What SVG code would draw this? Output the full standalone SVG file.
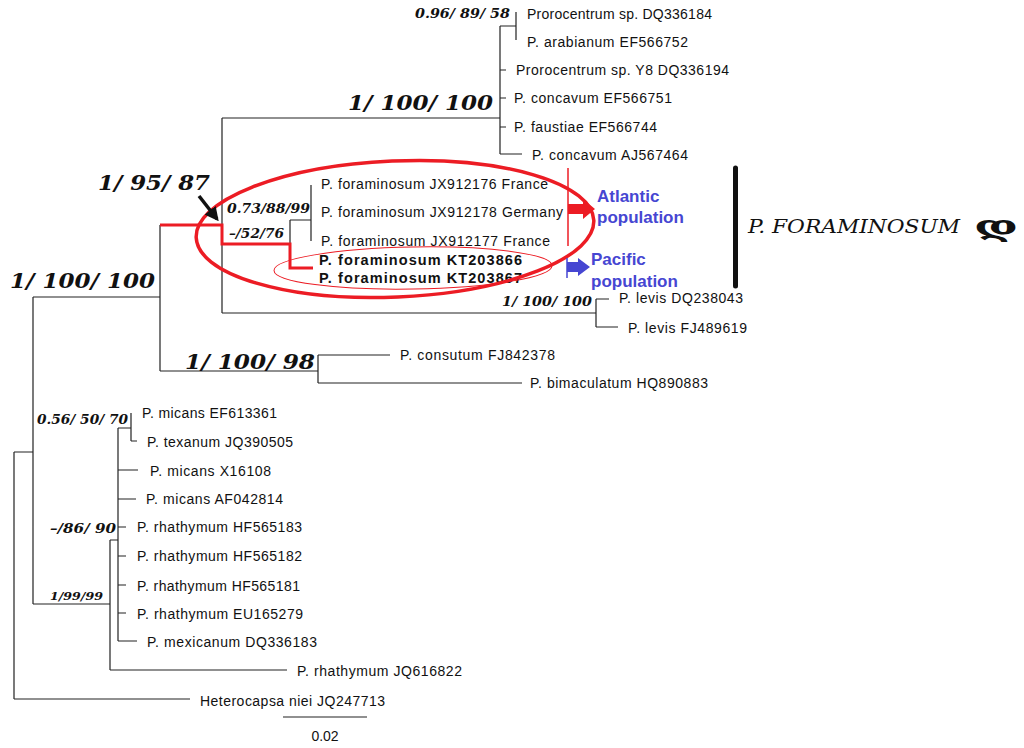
<svg xmlns="http://www.w3.org/2000/svg" width="1024" height="748" viewBox="0 0 1024 748">
<style>
.t{font-family:"Liberation Sans",Arial,sans-serif;font-size:14px;fill:#111}
.tb{font-family:"Liberation Sans",Arial,sans-serif;font-size:14.5px;font-weight:bold;fill:#111}
.s{font-family:"DejaVu Serif","Liberation Serif",serif;font-style:italic;font-weight:bold;font-size:12px;fill:#111}
.b{font-family:"DejaVu Serif","Liberation Serif",serif;font-style:italic;font-weight:bold;font-size:21px;fill:#111}
.pop{font-family:"Liberation Sans",Arial,sans-serif;font-weight:bold;font-size:17px;fill:#4646d2}
.br{fill:none;stroke:#222;stroke-width:1.2}
.red{fill:none;stroke:#ec1c24;stroke-width:3}
</style>
<defs>
<marker id="ah" viewBox="0 0 10 10" refX="8" refY="5" markerWidth="4" markerHeight="4" orient="auto"><path d="M0,0 L10,5 L0,10 z" fill="#111"/></marker>
</defs>
<rect width="1024" height="748" fill="#fff"/>
<g id="connectors">
<path class="br" d="M14,452 V699 M14,452 H33 M14,699 H190 M33,297 V604 M33,297 H160 M33,604 H110 M160,225 V371 M160,371 H318 M318,355 V383 M318,355 H390 M318,383 H522 M222,118 V313 M222,118 H500 M222,313 H596 M500,26 V154 M500,26 H516 M516,12 V40 M500,70 H506 M500,98 H506 M500,127 H506 M500,154 H522 M596,299 V327 M596,299 H609 M596,327 H618 M290,220 V244 M290,220 H311 M311,185 V241 M110,540 V670 M110,540 H118 M110,670 H287 M118,428 V641 M118,428 H131 M131,413 V441 M131,441 H137 M118,470 H138 M118,499 H136 M118,527 H126 M118,556 H126 M118,585 H126 M118,613 H126 M118,641 H137"/>
<path class="red" d="M160,225 H222 V244 H290 V268 H313"/>
<path d="M283,717 H367" stroke="#222" stroke-width="1.2"/>
</g>
<g id="support">
<text class="s" x="415" y="18" textLength="95" lengthAdjust="spacingAndGlyphs">0.96/ 89/ 58</text>
<text class="b" x="348" y="110" textLength="145" lengthAdjust="spacingAndGlyphs">1/ 100/ 100</text>
<text class="b" x="98" y="190" textLength="112" lengthAdjust="spacingAndGlyphs">1/ 95/ 87</text>
<text class="b" x="10" y="288" textLength="145" lengthAdjust="spacingAndGlyphs">1/ 100/ 100</text>
<text class="s" x="227" y="213" textLength="83" lengthAdjust="spacingAndGlyphs">0.73/88/99</text>
<text class="s" x="229" y="238" textLength="55" lengthAdjust="spacingAndGlyphs">–/52/76</text>
<text class="s" x="502" y="306" textLength="90" lengthAdjust="spacingAndGlyphs">1/ 100/ 100</text>
<text class="b" x="185" y="369" textLength="130" lengthAdjust="spacingAndGlyphs">1/ 100/ 98</text>
<text class="s" x="37" y="424" textLength="91" lengthAdjust="spacingAndGlyphs">0.56/ 50/ 70</text>
<text class="s" x="50" y="533" textLength="66" lengthAdjust="spacingAndGlyphs">–/86/ 90</text>
<text class="s" x="50" y="600" textLength="53" lengthAdjust="spacingAndGlyphs" style="font-size:11px">1/99/99</text>
</g>
<g id="taxa">
<g id="n1"><text class="t" x="527" y="19" textLength="185">Prorocentrum sp. DQ336184</text></g>
<g id="n2"><text class="t" x="527" y="47" textLength="161">P. arabianum EF566752</text></g>
<g id="n3"><text class="t" x="516" y="75" textLength="213">Prorocentrum sp. Y8 DQ336194</text></g>
<g id="n4"><text class="t" x="514" y="103" textLength="158">P. concavum EF566751</text></g>
<g id="n5"><text class="t" x="514" y="132" textLength="143">P. faustiae EF566744</text></g>
<g id="n6"><text class="t" x="532" y="160" textLength="156">P. concavum AJ567464</text></g>
<g id="n7"><text class="t" x="321" y="189" textLength="227">P. foraminosum JX912176 France</text></g>
<g id="n8"><text class="t" x="321" y="217" textLength="242">P. foraminosum JX912178 Germany</text></g>
<g id="n9"><text class="t" x="321" y="246" textLength="229">P. foraminosum JX912177 France</text></g>
<g id="n10"><text class="tb" x="319" y="265" textLength="203">P. foraminosum KT203866</text></g>
<g id="n11"><text class="tb" x="319" y="283" textLength="203">P. foraminosum KT203867</text></g>
<g id="n12"><text class="t" x="619" y="303" textLength="124">P. levis DQ238043</text></g>
<g id="n13"><text class="t" x="628" y="333" textLength="119">P. levis FJ489619</text></g>
<g id="n14"><text class="t" x="400" y="360" textLength="155">P. consutum FJ842378</text></g>
<g id="n15"><text class="t" x="530" y="388" textLength="178">P. bimaculatum HQ890883</text></g>
<g id="n16"><text class="t" x="142" y="418" textLength="135">P. micans EF613361</text></g>
<g id="n17"><text class="t" x="147" y="447" textLength="146">P. texanum JQ390505</text></g>
<g id="n18"><text class="t" x="150" y="476" textLength="121">P. micans X16108</text></g>
<g id="n19"><text class="t" x="146" y="504" textLength="137">P. micans AF042814</text></g>
<g id="n20"><text class="t" x="137" y="532" textLength="165">P. rhathymum HF565183</text></g>
<g id="n21"><text class="t" x="137" y="561" textLength="165">P. rhathymum HF565182</text></g>
<g id="n22"><text class="t" x="137" y="591" textLength="163">P. rhathymum HF565181</text></g>
<g id="n23"><text class="t" x="137" y="619" textLength="166">P. rhathymum EU165279</text></g>
<g id="n24"><text class="t" x="147" y="647" textLength="170">P. mexicanum DQ336183</text></g>
<g id="n25"><text class="t" x="297" y="676" textLength="165">P. rhathymum JQ616822</text></g>
<g id="n26"><text class="t" x="200" y="706" textLength="185">Heterocapsa niei JQ247713</text></g>
</g>
<g id="scale"><text class="t" x="325" y="741" text-anchor="middle">0.02</text></g>
<g id="highlight">
<ellipse cx="395" cy="229" rx="199" ry="68" transform="rotate(-2.5 395 229)" fill="none" stroke="#ec1c24" stroke-width="3.5"/>
<ellipse cx="413" cy="268" rx="139" ry="21" transform="rotate(-1 413 268)" fill="none" stroke="#ec1c24" stroke-width="1"/>
<line x1="199" y1="196" x2="217" y2="219" stroke="#111" stroke-width="3.5" marker-end="url(#ah)"/>
</g>
<g id="atlantic">
<line x1="568" y1="168" x2="568" y2="246" stroke="#ec1c24" stroke-width="1.5"/>
<path d="M568,204 H583 V199 L595,209 L583,219 V214 H568 z" fill="#ec1c24"/>
<text class="pop" x="597" y="202">Atlantic</text>
<text class="pop" x="597" y="223">population</text>
</g>
<g id="pacific">
<line x1="567" y1="258" x2="567" y2="278" stroke="#4646d2" stroke-width="1.5"/>
<path d="M567,262 H578 V258 L590,267 L578,276 V272 H567 z" fill="#4646d2"/>
<text class="pop" x="591" y="265">Pacific</text>
<text class="pop" x="591" y="287">population</text>
</g>
<g id="species">
<line x1="735.5" y1="168" x2="735.5" y2="286" stroke="#111" stroke-width="5" stroke-linecap="round"/>
<text x="748" y="233" textLength="212" lengthAdjust="spacingAndGlyphs" style="font-family:'DejaVu Serif','Liberation Serif',serif;font-style:italic;font-size:19px;fill:#111">P. FORAMINOSUM</text>
<text x="974" y="236" textLength="44" lengthAdjust="spacingAndGlyphs" style="font-family:'DejaVu Serif',serif;font-weight:bold;font-size:28px;fill:#111">დ</text>
</g>
</svg>
